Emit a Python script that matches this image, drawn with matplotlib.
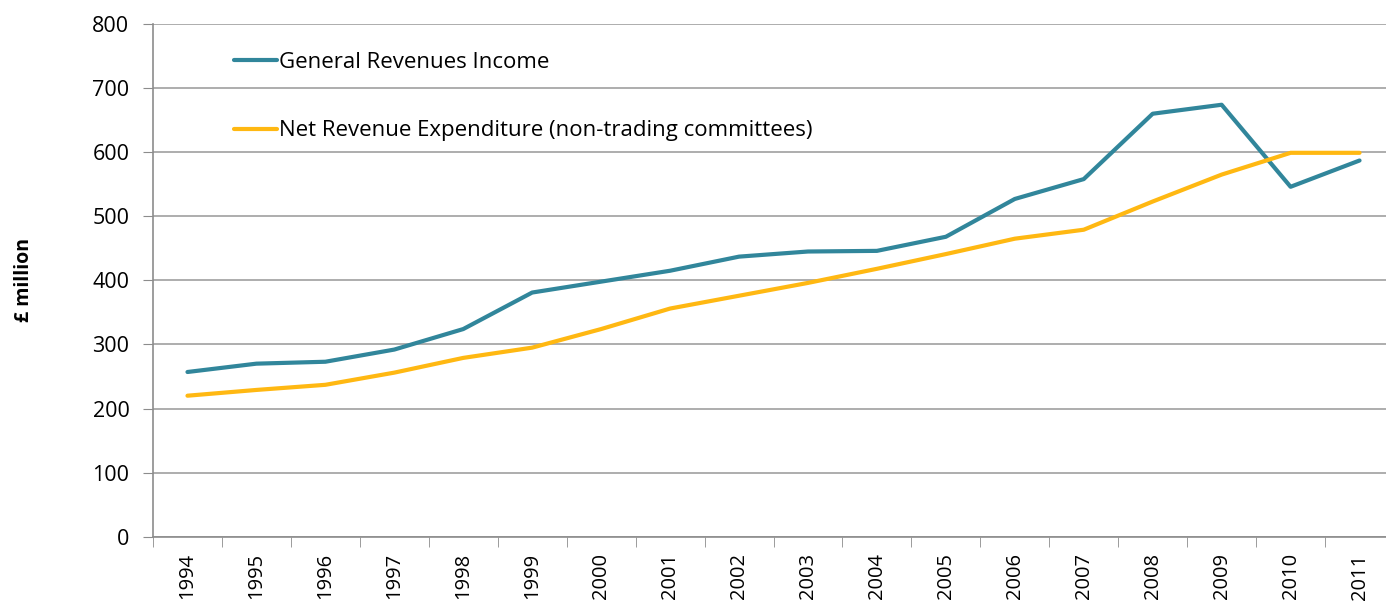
import numpy as np
import matplotlib.pyplot as plt

# Datos
years = [str(y) for y in range(1994, 2012)]
general_revenues = [257, 270, 273, 292, 324, 381, 398, 415, 437, 445, 446, 468,
                    527, 558, 660, 674, 546, 587]
net_expenditure = [220, 229, 237, 256, 279, 295, 324, 356, 376, 396, 418, 441,
                   465, 479, 523, 565, 599, 599]

plt.rcParams['font.family'] = ['Open Sans', 'DejaVu Sans']

fig = plt.figure(figsize=(13.86, 6.03), dpi=100)
ax = fig.add_axes([153 / 1386, 1 - 536.7 / 603, (1394 - 153) / 1386, (536.7 - 24) / 603])

x = np.arange(len(years))
ax.plot(x, general_revenues, color='#31869B', linewidth=3, label='General Revenues Income',
        solid_capstyle='round', solid_joinstyle='round')
ax.plot(x, net_expenditure, color='#FFB812', linewidth=3,
        label='Net Revenue Expenditure (non-trading committees)',
        solid_capstyle='round', solid_joinstyle='round')

ax.set_xlim(-0.5, len(years) - 0.5)
ax.set_ylim(0, 800)
ax.set_yticks(range(0, 801, 100))
ax.set_xticks(x)
ax.set_xticklabels(years, rotation=90, fontsize=14.5)
ax.set_xticks(np.arange(-0.5, len(years), 1), minor=True)
ax.tick_params(axis='x', which='major', length=0, pad=12)
ax.tick_params(axis='x', which='minor', length=7, color='#8C8C8C', direction='out')
ax.tick_params(axis='y', length=7, color='#8C8C8C', labelsize=15.5, pad=10)

ax.grid(axis='y', color='#A0A0A0', linewidth=1.2)
ax.set_axisbelow(True)
for side in ['top', 'right']:
    ax.spines[side].set_visible(False)
for side in ['left', 'bottom']:
    ax.spines[side].set_color('#8C8C8C')
    ax.spines[side].set_linewidth(1.2)

ax.set_ylabel('£ million', fontsize=14, fontweight='bold', labelpad=42)

ax.legend(loc='upper left', bbox_to_anchor=(0.049, 0.984), frameon=False, fontsize=16,
          handlelength=1.95, handletextpad=0.1, labelspacing=2.12)

fig.savefig('out.png', dpi=100)
